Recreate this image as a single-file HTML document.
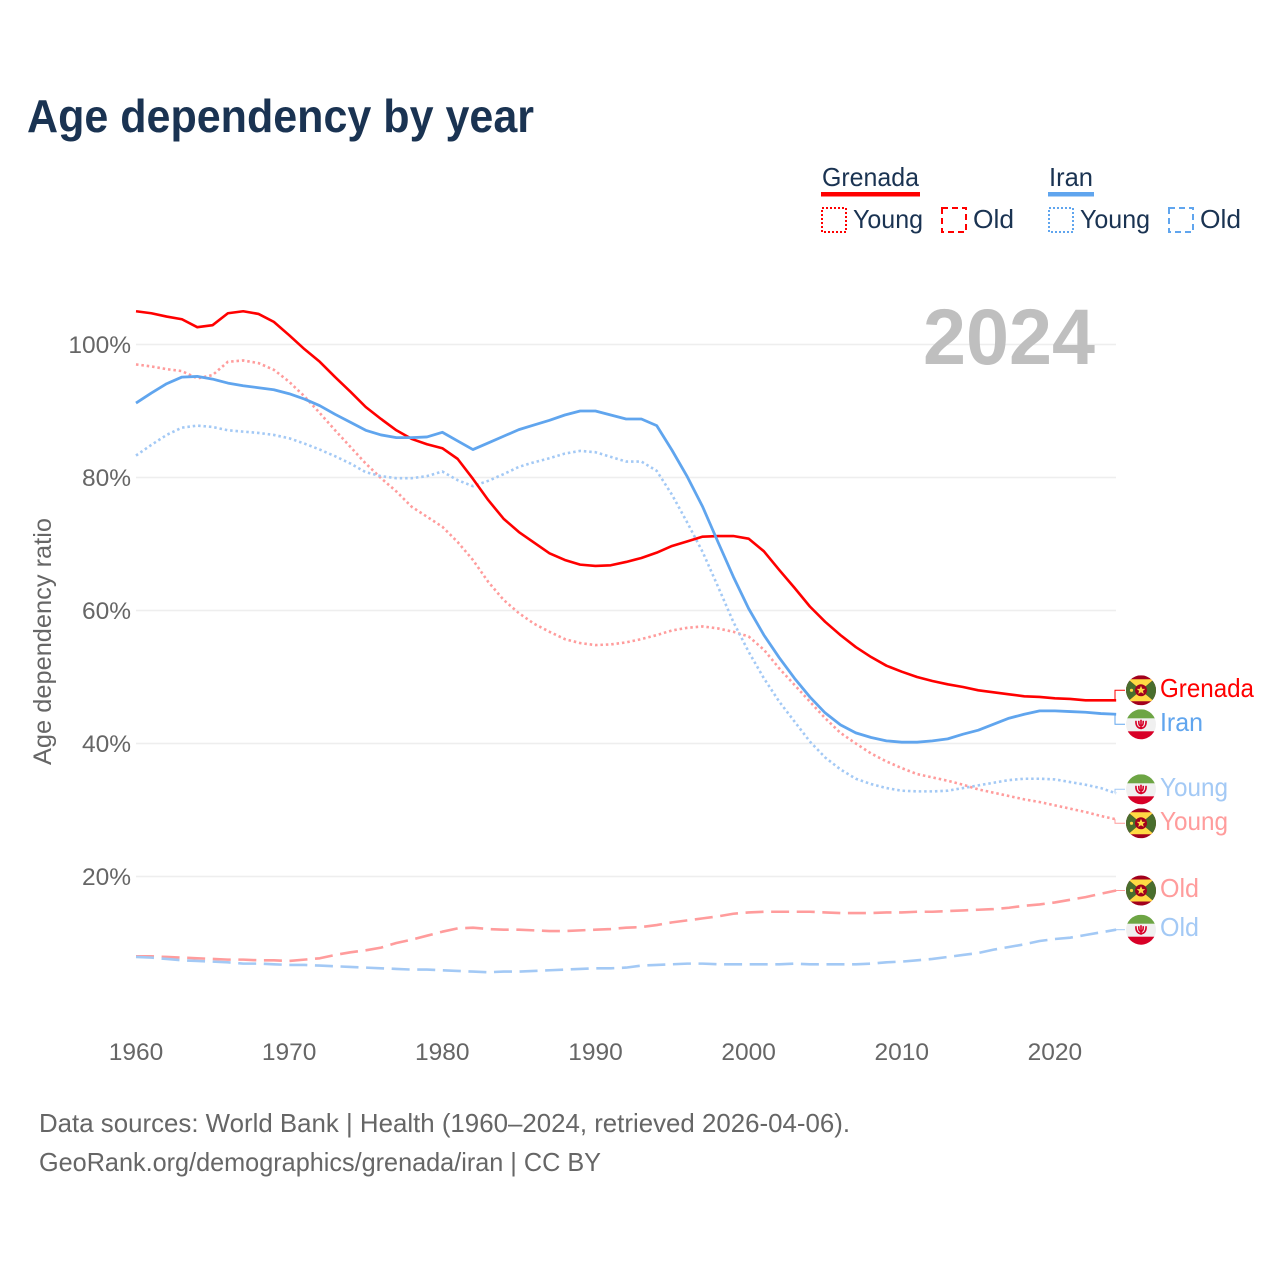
<!DOCTYPE html>
<html lang="en">
<head>
<meta charset="utf-8">
<title>Age dependency by year</title>
<style>
html,body{margin:0;padding:0;background:#fff;}
svg{display:block;font-family:"Liberation Sans",sans-serif;}
</style>
</head>
<body>
<svg id="chart" xmlns="http://www.w3.org/2000/svg" width="1280" height="1280" viewBox="0 0 1280 1280">
<defs>
<clipPath id="flag-clip"><circle cx="0" cy="0" r="15"/></clipPath>
<g id="flag-grenada" clip-path="url(#flag-clip)">
<rect x="-15" y="-15" width="30" height="30" fill="#a2001d"/>
<polygon points="-13,-11 13,-11 0,0" fill="#ffda44"/>
<polygon points="-13,11 13,11 0,0" fill="#ffda44"/>
<polygon points="-15,-11 -13,-11 0,0 -13,11 -15,11" fill="#496e2d"/>
<polygon points="15,-11 13,-11 0,0 13,11 15,11" fill="#496e2d"/>
<circle cx="0" cy="0" r="6" fill="#a2001d"/>
<polygon points="0,-4.4 1.3,-1.4 4.3,-1.4 1.9,0.6 2.8,3.6 0,1.9 -2.8,3.6 -1.9,0.6 -4.3,-1.4 -1.3,-1.4" fill="#ffda44"/>
<circle cx="-9.5" cy="0" r="1.6" fill="#ffda44"/>
</g>
<g id="flag-iran" clip-path="url(#flag-clip)">
<rect x="-15" y="-15" width="30" height="30" fill="#f0f0f0"/>
<rect x="-15" y="-15" width="30" height="9" fill="#6da544"/>
<rect x="-15" y="7" width="30" height="9" fill="#d80027"/>
<path d="M-5,-3.5 C-5.5,2 -2.5,4 0,4 C2.5,4 5.5,2 5,-3.5 M-2.2,-3.5 C-2.4,0.8 -1.2,1.6 0,1.6 C1.2,1.6 2.4,0.8 2.2,-3.5 M0,-4.5 L0,5" fill="none" stroke="#d80027" stroke-width="1.6"/>
</g>
</defs>

<text x="27" y="132" font-size="46" font-weight="700" fill="#1a3352" textLength="507" lengthAdjust="spacingAndGlyphs">Age dependency by year</text>

<g font-size="26" fill="#1a3352">
<text x="822" y="186" textLength="97" lengthAdjust="spacingAndGlyphs">Grenada</text>
<rect x="821" y="192" width="99" height="4.5" fill="#ff0000"/>
<rect x="822" y="208" width="24" height="24" fill="none" stroke="#ff0000" stroke-width="2" stroke-dasharray="2 2"/>
<text x="853" y="228" textLength="70" lengthAdjust="spacingAndGlyphs">Young</text>
<rect x="942" y="208" width="24" height="24" fill="none" stroke="#ff0000" stroke-width="2" stroke-dasharray="6 4"/>
<text x="973" y="228" textLength="41" lengthAdjust="spacingAndGlyphs">Old</text>
<text x="1049" y="186" textLength="44" lengthAdjust="spacingAndGlyphs">Iran</text>
<rect x="1048" y="192" width="46" height="4.5" fill="#60a5ee"/>
<rect x="1049" y="208" width="24" height="24" fill="none" stroke="#60a5ee" stroke-width="2" stroke-dasharray="2 2"/>
<text x="1080" y="228" textLength="70" lengthAdjust="spacingAndGlyphs">Young</text>
<rect x="1169" y="208" width="24" height="24" fill="none" stroke="#60a5ee" stroke-width="2" stroke-dasharray="6 4"/>
<text x="1200" y="228" textLength="41" lengthAdjust="spacingAndGlyphs">Old</text>
</g>

<g id="grid"></g>
<text x="923" y="364" font-size="79" font-weight="700" fill="#bfbfbf" textLength="172" lengthAdjust="spacingAndGlyphs">2024</text>
<g id="ticks" font-size="24.5" fill="#666666"></g>
<text transform="translate(51,641.5) rotate(-90)" text-anchor="middle" font-size="25" fill="#666666" textLength="247" lengthAdjust="spacingAndGlyphs">Age dependency ratio</text>
<g id="series"></g>
<g id="labels" font-size="26"></g>

<text x="39" y="1132" font-size="26" fill="#666666" textLength="811" lengthAdjust="spacingAndGlyphs">Data sources: World Bank | Health (1960–2024, retrieved 2026-04-06).</text>
<text x="39" y="1171" font-size="26" fill="#666666" textLength="562" lengthAdjust="spacingAndGlyphs">GeoRank.org/demographics/grenada/iran | CC BY</text>
</svg>

<script>
const startYear = 1960;
const xTickYears = [1960, 1970, 1980, 1990, 2000, 2010, 2020];
const yTickValues = [20, 40, 60, 80, 100];

const grenadaTotal = [105.0,104.7,104.2,103.8,102.6,102.9,104.7,105.0,104.6,103.4,
101.4,99.3,97.4,95.1,92.9,90.6,88.8,87.1,85.8,85.0,
84.4,82.8,79.8,76.6,73.8,71.8,70.2,68.6,67.6,66.9,
66.7,66.8,67.3,67.9,68.7,69.7,70.4,71.1,71.2,71.2,
70.8,68.9,66.1,63.4,60.6,58.3,56.3,54.5,53.0,51.7,
50.8,50.0,49.4,48.9,48.5,48.0,47.7,47.4,47.1,47.0,
46.8,46.7,46.5,46.5,46.5];
const grenadaYoung = [97.0,96.7,96.3,96.0,94.9,95.4,97.4,97.6,97.2,96.2,
94.4,92.2,89.7,87.1,84.6,82.1,79.9,77.9,75.6,74.1,
72.6,70.3,67.6,64.3,61.6,59.6,58.0,56.8,55.7,55.1,
54.8,54.9,55.2,55.7,56.3,57.0,57.4,57.6,57.3,56.8,
56.1,54.1,51.3,48.8,46.3,43.8,41.6,40.0,38.5,37.3,
36.3,35.4,34.9,34.4,33.8,33.1,32.6,32.1,31.6,31.2,
30.7,30.2,29.7,29.1,28.6];
const grenadaOld = [8.0,8.0,7.9,7.8,7.7,7.6,7.5,7.5,7.4,7.4,
7.3,7.5,7.7,8.2,8.6,8.9,9.3,10.0,10.5,11.1,
11.7,12.2,12.3,12.1,12.0,12.0,11.9,11.8,11.8,11.9,
12.0,12.1,12.3,12.4,12.7,13.1,13.4,13.7,14.0,14.4,
14.6,14.7,14.7,14.7,14.7,14.6,14.5,14.5,14.5,14.6,
14.6,14.7,14.7,14.8,14.9,15.0,15.1,15.3,15.6,15.8,
16.1,16.5,16.9,17.4,17.9];
const iranTotal = [91.2,92.7,94.1,95.1,95.2,94.8,94.2,93.8,93.5,93.2,
92.6,91.8,90.8,89.5,88.3,87.1,86.4,86.0,86.0,86.1,
86.8,85.5,84.2,85.2,86.2,87.2,87.9,88.6,89.4,90.0,
90.0,89.4,88.8,88.8,87.8,84.1,80.1,75.6,70.3,65.1,
60.3,56.3,52.9,49.8,47.0,44.6,42.8,41.6,40.9,40.4,
40.2,40.2,40.4,40.7,41.4,42.0,42.9,43.8,44.4,44.9,
44.9,44.8,44.7,44.5,44.4];
const iranYoung = [83.3,84.9,86.4,87.5,87.8,87.6,87.1,86.9,86.7,86.4,
85.9,85.1,84.2,83.2,82.1,80.8,80.2,79.9,79.9,80.2,
80.9,79.6,78.7,79.5,80.5,81.6,82.3,82.9,83.6,84.0,
83.8,83.1,82.4,82.4,81.0,77.4,73.2,68.8,63.6,58.3,
53.8,49.8,46.3,43.3,40.3,37.9,36.1,34.7,33.9,33.3,
32.9,32.8,32.8,32.9,33.3,33.7,34.1,34.5,34.7,34.7,
34.6,34.2,33.8,33.3,32.5];
const iranOld = [7.9,7.8,7.6,7.4,7.3,7.2,7.1,6.9,6.9,6.8,
6.7,6.7,6.6,6.5,6.4,6.3,6.2,6.1,6.0,6.0,
5.9,5.8,5.7,5.6,5.7,5.7,5.8,5.9,6.0,6.1,
6.2,6.2,6.3,6.6,6.7,6.8,6.9,6.9,6.8,6.8,
6.8,6.8,6.8,6.9,6.8,6.8,6.8,6.8,6.9,7.1,
7.2,7.4,7.6,7.9,8.2,8.5,9.0,9.4,9.8,10.3,
10.6,10.8,11.2,11.6,12.0];

const NS = 'http://www.w3.org/2000/svg';
const xAxis = function (year) { return 136 + (year - startYear) * 15.315; };
const yAxis = function (value) { return 1009.5 - value * 6.65; };
const RED = '#ff0000';
const BLUE = '#60a5ee';
const LIGHT_RED = '#ff9c9c';
const LIGHT_BLUE = '#a3c9f5';

function make(tag, attrs, parent) {
  const el = document.createElementNS(NS, tag);
  for (const k in attrs) el.setAttribute(k, attrs[k]);
  parent.appendChild(el);
  return el;
}

const gridGroup = document.getElementById('grid');
const tickGroup = document.getElementById('ticks');
yTickValues.forEach(function (v) {
  const line = make('line', {x1: 136, x2: 1116, y1: yAxis(v), y2: yAxis(v), stroke: '#eeeeee', 'stroke-width': 1.6}, gridGroup);
  
  
  const t = make('text', {x: 131, y: yAxis(v) + 8.5, 'text-anchor': 'end'}, tickGroup);
  t.textContent = v + '%';
  
  
});
xTickYears.forEach(function (year) {
  const t = make('text', {x: xAxis(year), y: 1060, 'text-anchor': 'middle'}, tickGroup);
  t.textContent = year;
  
  
});

const seriesList = [
  {id: 'grenada-old', values: grenadaOld, color: LIGHT_RED, dash: '18 7.6', width: 2.6, label: 'Old', flag: 'flag-grenada'},
  {id: 'iran-old', values: iranOld, color: LIGHT_BLUE, dash: '18 7.6', width: 2.6, label: 'Old', flag: 'flag-iran'},
  {id: 'grenada-young', values: grenadaYoung, color: LIGHT_RED, dash: '2.5 2.9', width: 2.6, label: 'Young', flag: 'flag-grenada'},
  {id: 'iran-young', values: iranYoung, color: LIGHT_BLUE, dash: '2.5 2.9', width: 2.6, label: 'Young', flag: 'flag-iran'},
  {id: 'grenada-total', values: grenadaTotal, color: RED, dash: '', width: 2.6, label: 'Grenada', flag: 'flag-grenada'},
  {id: 'iran-total', values: iranTotal, color: BLUE, dash: '', width: 2.8, label: 'Iran', flag: 'flag-iran'}
];

const seriesGroup = document.getElementById('series');
seriesList.forEach(function (s) {
  const pts = s.values.map(function (v, i) { return xAxis(startYear + i).toFixed(2) + ',' + yAxis(v).toFixed(2); }).join(' ');
  const line = make('polyline', {points: pts, fill: 'none', stroke: s.color, 'stroke-width': s.width, 'stroke-linejoin': 'round'}, seriesGroup);
  if (s.dash) line.setAttribute('stroke-dasharray', s.dash);
  
  
});

/* dodge end labels: keep a minimum vertical gap, moving overlapping neighbours apart evenly */
const minGap = 34;
const ordered = seriesList.slice().sort(function (a, b) { return b.values[b.values.length - 1] - a.values[a.values.length - 1]; });
ordered.forEach(function (s) { s.endY = yAxis(s.values[s.values.length - 1]); s.labelY = s.endY; });
for (let i = 1; i < ordered.length; i++) {
  const a = ordered[i - 1], b = ordered[i];
  if (b.labelY - a.labelY < minGap) {
    const mid = (a.endY + b.endY) / 2;
    a.labelY = mid - minGap / 2;
    b.labelY = mid + minGap / 2;
  }
}

const labelGroup = document.getElementById('labels');
const labelWidths = {Grenada: 94, Iran: 43, Young: 68, Old: 39};
ordered.forEach(function (s) {
  const d = 'M1115 ' + s.endY.toFixed(1) + ' V' + s.labelY.toFixed(1) + ' H1125';
  const conn = make('path', {d: d, fill: 'none', stroke: s.color, 'stroke-width': 1}, labelGroup);
  
  
  const flag = make('use', {href: '#' + s.flag, transform: 'translate(1141,' + s.labelY.toFixed(1) + ')'}, labelGroup);
  
  
  const t = make('text', {x: 1160, y: (s.labelY + 6.5).toFixed(1), fill: s.color, textLength: labelWidths[s.label], lengthAdjust: 'spacingAndGlyphs'}, labelGroup);
  t.textContent = s.label;
  
  
});
</script>
</body>
</html>
